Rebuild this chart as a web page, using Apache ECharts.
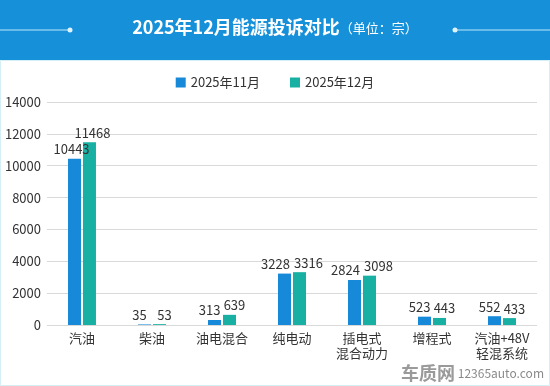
<!DOCTYPE html>
<html><head><meta charset="utf-8">
<script src="https://cdn.jsdelivr.net/npm/echarts@6/dist/echarts.min.js"></script>
<style>html,body{margin:0;padding:0;background:#fff}#c{width:550px;height:386px}</style>
</head><body><div id="c"></div>
<script>
const categories = ['汽油','柴油','油电混合','纯电动','插电式\n混合动力','增程式','汽油+48V\n轻混系统'];
const seriesNames = ['2025年11月','2025年12月'];
const nov = [10443,35,313,3228,2824,523,552];
const dec = [11468,53,639,3316,3098,443,433];
const yTicks = {min:0,max:14000,interval:2000};
const font = '"Microsoft YaHei","Noto Sans CJK SC",sans-serif';
function withOffsets(arr, sign){
  return arr.map(v=>{
    const d = String(v).length;
    const off = d>=5 ? 3 : (d===4 ? 9 : 5);
    return {value:v,label:{offset:[sign*off,0]}};
  });
}
const chart = echarts.init(document.getElementById('c'));
chart.setOption({
  animation:false,
  textStyle:{fontFamily:font},
  graphic:[
    {type:'rect',shape:{x:0,y:0,width:550,height:60},style:{fill:'#1590d9'},z:-1},
    {type:'rect',shape:{x:0.5,y:60.5,width:549,height:325},style:{fill:'#fff',stroke:'#d6eef5',lineWidth:1},z:-1},
    {type:'line',shape:{x1:0,y1:30,x2:69,y2:30},style:{stroke:'#bfe6f8',lineWidth:1}},
    {type:'circle',shape:{cx:70,cy:30,r:2.5},style:{fill:'#dff3fb'}},
    {type:'line',shape:{x1:456,y1:30,x2:550,y2:30},style:{stroke:'#bfe6f8',lineWidth:1}},
    {type:'circle',shape:{cx:455,cy:30,r:2.5},style:{fill:'#dff3fb'}},
    {type:'text',left:'center',top:18,style:{
      text:'{a|2025年12月能源投诉对比}{b|（单位：宗）}',
      rich:{a:{fontSize:18,fontWeight:'bold',fill:'#fff',fontFamily:font},b:{fontSize:13,fill:'#fff',fontFamily:font,padding:[3,0,0,0]}}
    }},
    {type:'text',right:6,bottom:4,style:{
      text:'{a|车质网}{b| 12365auto.com}',
      rich:{a:{fontSize:18,fontWeight:'bold',fill:'#9a9a9a',fontFamily:font},b:{fontSize:12,fill:'#8a8a8a',fontFamily:font}}
    }}
  ],
  legend:{top:71,left:'center',itemWidth:10,itemHeight:10,itemGap:30,icon:'rect',
    textStyle:{fontSize:13,color:'#333',fontFamily:font},data:seriesNames},
  grid:{left:47,right:13,top:102,bottom:61,containLabel:false},
  xAxis:{type:'category',data:categories,
    axisLine:{show:false},axisTick:{show:false},
    axisLabel:{color:'#333',fontSize:13,interval:0,lineHeight:15,margin:6}},
  yAxis:{type:'value',min:yTicks.min,max:yTicks.max,interval:yTicks.interval,
    axisLine:{show:false},axisTick:{show:false},
    axisLabel:{color:'#333',fontSize:13,margin:6,formatter:v=>String(v)},
    splitLine:{lineStyle:{color:'#d9d9d9',width:1}}},
  series:[
    {name:seriesNames[0],type:'bar',data:withOffsets(nov,-1),barWidth:13,barGap:'15%',
      itemStyle:{color:'#1689d9'},
      label:{show:true,position:'top',color:'#333',fontSize:13,distance:3}},
    {name:seriesNames[1],type:'bar',data:withOffsets(dec,1),barWidth:13,
      itemStyle:{color:'#17b0a2'},
      label:{show:true,position:'top',color:'#333',fontSize:13,distance:3}}
  ]
});
</script></body></html>
